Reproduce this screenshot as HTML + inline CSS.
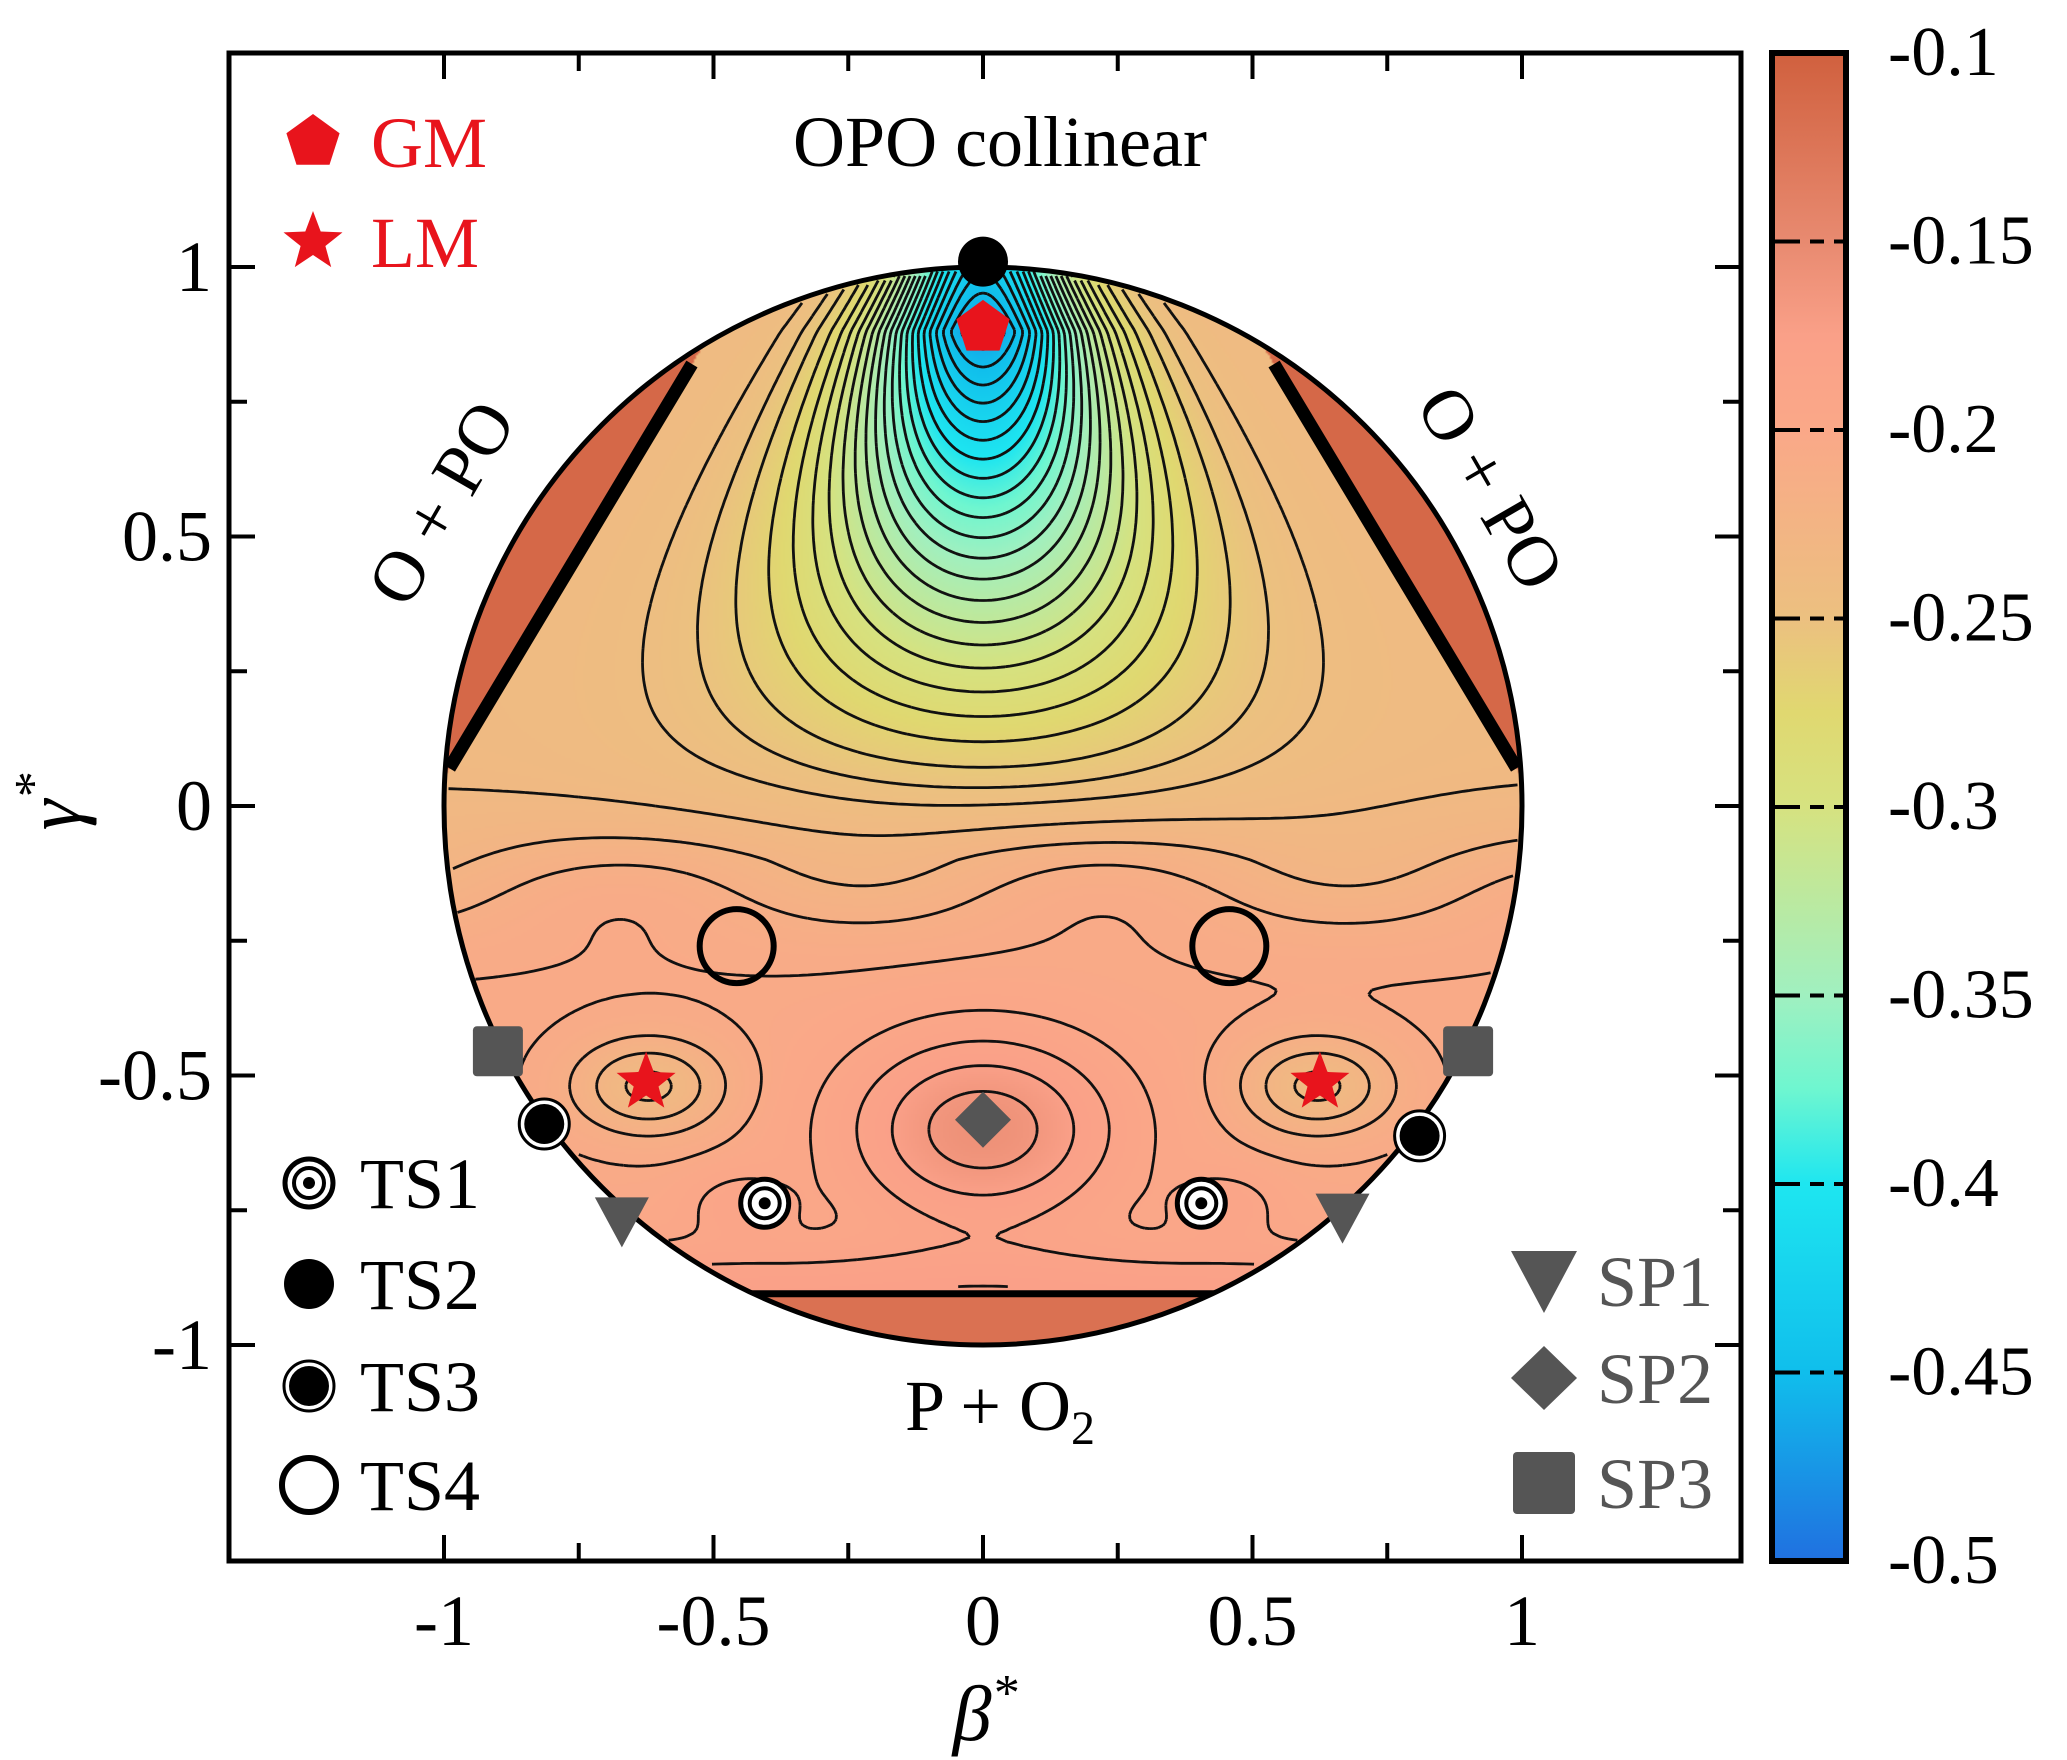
<!DOCTYPE html>
<html><head><meta charset="utf-8"><style>
html,body{margin:0;padding:0;background:#fff;}
#wrap{position:relative;width:2067px;height:1760px;overflow:hidden;background:#fff;}
#fill{position:absolute;left:444px;top:267px;width:1078px;height:1078px;border-radius:50%;}
svg{position:absolute;left:0;top:0;}
text{font-family:"Liberation Serif",serif;}
</style></head><body>
<div id="wrap">
<canvas id="fill" width="539" height="539"></canvas>
<svg id="svg" width="2067" height="1760"></svg>
</div>
<script>
const xTicks=[-1,-0.5,0,0.5,1];
const yTicks=[1,0.5,0,-0.5,-1];
const xTickLabels=["-1","-0.5","0","0.5","1"];
const yTickLabels=["1","0.5","0","-0.5","-1"];
const cbTicks=[-0.1,-0.15,-0.2,-0.25,-0.3,-0.35,-0.4,-0.45,-0.5];
const cbLabels=["-0.1","-0.15","-0.2","-0.25","-0.3","-0.35","-0.4","-0.45","-0.5"];
const contourLevels=[-0.47,-0.46,-0.45,-0.44,-0.43,-0.42,-0.41,-0.40,-0.39,-0.38,-0.37,-0.36,-0.35,-0.34,-0.33,-0.32,-0.31,-0.30,-0.29,-0.28,-0.27,-0.26,-0.252,-0.245,-0.235,-0.225,-0.215,-0.205,-0.195,-0.185,-0.175,-0.165,-0.155,-0.145];
const ts1=[[-0.405,-0.737],[0.405,-0.737]];
const ts2=[[0,1.01]];
const ts3=[[-0.814,-0.59],[0.81,-0.612]];
const ts4=[[-0.457,-0.26],[0.457,-0.26]];
const gm=[[0,0.887]];
const lm=[[-0.625,-0.513],[0.625,-0.513]];
const sp1=[[-0.67,-0.767],[0.667,-0.76]];
const sp2=[[0,-0.582]];
const sp3=[[-0.9,-0.455],[0.9,-0.455]];

const X0=983,Y0=806,U=539;
const px=x=>X0+x*U, py=y=>Y0-y*U;
const cbTop=53,cbBot=1561,cbL=1772,cbR=1846;
const cbY=v=>cbTop+(-0.1-v)/0.4*(cbBot-cbTop);
const NS="http://www.w3.org/2000/svg";
const svg=document.getElementById('svg');
function mk(tag,attrs,parent){const e=document.createElementNS(NS,tag);for(const k in attrs)e.setAttribute(k,attrs[k]);(parent||svg).appendChild(e);return e;}

const stops=[[-0.5,[32,112,224]],[-0.45,[16,190,236]],[-0.4,[30,230,240]],[-0.375,[110,246,208]],[-0.35,[160,240,192]],[-0.3,[214,226,128]],[-0.275,[224,216,112]],[-0.25,[236,192,128]],[-0.2,[250,168,136]],[-0.175,[250,160,136]],[-0.15,[232,138,112]],[-0.1,[208,96,62]]];
function cmap(v){if(v<=stops[0][0])return stops[0][1];for(let i=1;i<stops.length;i++){if(v<=stops[i][0]){const a=stops[i-1],b=stops[i],t=(v-a[0])/(b[0]-a[0]);return a[1].map((c,j)=>c+(b[1][j]-c)*t);}}return stops[stops.length-1][1];}
const sg=t=>1/(1+Math.exp(-t));
function inWedge(x,y){
  const ax=-0.54,ay=0.82,bx=-0.99,by=0.07,xx=-Math.abs(x);
  const c=(bx-ax)*(y-ay)-(by-ay)*(xx-ax);
  return y>0.02 && c<0;
}
function field(x,y){
  if(inWedge(x,y))return -0.11;
  if(y<-0.905)return -0.12;
  let v=-0.238;
  v+=0.035*sg((-0.12-y)/0.07);
  v+=0.008*Math.sin(x*7)*Math.exp(-((y+0.15)**2)/0.01);
  v+=0.045*Math.exp(-(x*x/0.06+(y+0.6)*(y+0.6)/0.03));
  v-=0.035*Math.exp(-((Math.abs(x)-0.62)**2/0.02+(y+0.52)**2/0.008));
  v+=0.012*Math.exp(-((Math.abs(x)-0.45)**2/0.01+(y+0.74)**2/0.004));
  v+=0.03*sg((-0.84-y)/0.03);
  let A=0,w;
  if(y>-0.1){
    if(y<=0.88)A=0.232*Math.pow((y+0.1)/0.98,1.3);
    else A=0.232*Math.max(0,1-(y-0.88)*1.2);
    w=Math.max(0.16,0.45-0.22*(y-0.2)/0.6);
    v-=A*Math.exp(-Math.pow(Math.abs(x)/w,2));
  }
  return v;
}
const cv=document.getElementById('fill'),ctx=cv.getContext('2d');
const img=ctx.createImageData(539,539);
for(let j=0;j<539;j++)for(let i=0;i<539;i++){
  const x=(i+0.5)/539*2-1,y=1-(j+0.5)/539*2;
  const c=cmap(field(x,y));const k=(j*539+i)*4;
  img.data[k]=c[0];img.data[k+1]=c[1];img.data[k+2]=c[2];img.data[k+3]=255;}
ctx.putImageData(img,0,0);

const N=240,G=[],ok=[];
for(let j=0;j<=N;j++){G[j]=[];ok[j]=[];for(let i=0;i<=N;i++){const x=-1+2*i/N,y=-1+2*j/N;G[j][i]=field(x,y);ok[j][i]=(x*x+y*y<0.995)&&!inWedge(x,y)&&y>-0.9;}}
let d="";
const gx=i=>px(-1+2*i/N),gy=j=>py(-1+2*j/N);
for(const L of contourLevels){
  for(let j=0;j<N;j++)for(let i=0;i<N;i++){
    if(!(ok[j][i]&&ok[j][i+1]&&ok[j+1][i]&&ok[j+1][i+1]))continue;
    const a=G[j][i],b=G[j][i+1],c=G[j+1][i+1],e=G[j+1][i];
    const pts=[];
    const ed=(v1,v2,x1,y1,x2,y2)=>{if((v1<L)!==(v2<L)){const t=(L-v1)/(v2-v1);pts.push([x1+(x2-x1)*t,y1+(y2-y1)*t]);}};
    ed(a,b,i,j,i+1,j);ed(b,c,i+1,j,i+1,j+1);ed(c,e,i+1,j+1,i,j+1);ed(e,a,i,j+1,i,j);
    for(let k=0;k+1<pts.length;k+=2)d+="M"+gx(pts[k][0]).toFixed(1)+" "+gy(pts[k][1]).toFixed(1)+"L"+gx(pts[k+1][0]).toFixed(1)+" "+gy(pts[k+1][1]).toFixed(1);
  }
}
const defs=mk('defs',{});
const cp=mk('clipPath',{id:'cc'},defs);mk('circle',{cx:X0,cy:Y0,r:U},cp);
const cont=mk('path',{d:d,fill:'none',stroke:'#111','stroke-width':2.8,'clip-path':'url(#cc)'});

const wl=mk('line',{x1:px(-0.54),y1:py(0.82),x2:px(-0.99),y2:py(0.07),stroke:'#000','stroke-width':13,'clip-path':'url(#cc)'});

const wr=mk('line',{x1:px(0.54),y1:py(0.82),x2:px(0.99),y2:py(0.07),stroke:'#000','stroke-width':13,'clip-path':'url(#cc)'});

const bl=mk('line',{x1:px(-1),y1:py(-0.905),x2:px(1),y2:py(-0.905),stroke:'#000','stroke-width':7,'clip-path':'url(#cc)'});

const co=mk('circle',{cx:X0,cy:Y0,r:U,fill:'none',stroke:'#000','stroke-width':5});


const fL=229,fR=1741,fT=53,fB=1561;
const fr=mk('rect',{x:fL,y:fT,width:fR-fL,height:fB-fT,fill:'none',stroke:'#000','stroke-width':5});

let td="";
for(let k=-4;k<=4;k++){const v=k*0.25,len=(k%2===0)?26:18;
  const x=px(v),y=py(v);
  td+=`M${x} ${fB}V${fB-len}M${x} ${fT}V${fT+len}M${fL} ${y}H${fL+len}M${fR} ${y}H${fR-len}`;}
const tk=mk('path',{d:td,stroke:'#000','stroke-width':4,fill:'none'});

xTicks.forEach((v,i)=>{const t=mk('text',{x:px(v),y:1645,'font-size':72,'text-anchor':'middle'});t.textContent=xTickLabels[i];
  });
yTicks.forEach((v,i)=>{const t=mk('text',{x:212,y:py(v)+24,'font-size':72,'text-anchor':'end'});t.textContent=yTickLabels[i];
  });
const xt=mk('text',{x:985,y:1740,'font-size':78,'font-style':'italic','text-anchor':'middle'});xt.innerHTML='β<tspan dy="-30" font-size="52">*</tspan>';

const yt=mk('text',{x:0,y:0,'font-size':78,'font-style':'italic','text-anchor':'middle',transform:'translate(80,802) rotate(-90)'});yt.innerHTML='γ<tspan dy="-30" font-size="52">*</tspan>';


function lab(txt,x,y,rot,name){const t=mk('text',{x:0,y:0,'font-size':72,'text-anchor':'middle',transform:`translate(${x},${y}) rotate(${rot})`});t.innerHTML=txt;
  }
lab('OPO collinear',1000,166,0,'opo-collinear-label');
lab('P + O<tspan dy="14" font-size="48">2</tspan>',1000,1430,0,'p-o2-label');
lab('O + PO',462,515,-60,'left-o-po-label');
lab('O + PO',1470,500,60,'right-o-po-label');

const lg=mk('linearGradient',{id:'cbg',x1:0,y1:1,x2:0,y2:0},defs);
stops.forEach(s=>{mk('stop',{offset:((s[0]+0.5)/0.4).toFixed(4),'stop-color':`rgb(${s[1].map(Math.round).join(',')})`},lg);});
const cb=mk('rect',{x:cbL,y:cbTop,width:cbR-cbL,height:cbBot-cbTop,fill:'url(#cbg)',stroke:'#000','stroke-width':6});

cbTicks.forEach((v,i)=>{const y=cbY(v);
  if(i>0&&i<cbTicks.length-1){const l=mk('path',{d:`M${cbL} ${y}H${cbL+28}M${cbL+38} ${y}H${cbL+52}M${cbL+62} ${y}H${cbR}`,stroke:'#000','stroke-width':4});
    }
  const t=mk('text',{x:1888,y:y+22,'font-size':70});t.textContent=cbLabels[i];
  });

function pent(cx,cy,r){let p=[];for(let k=0;k<5;k++){const a=-Math.PI/2+k*2*Math.PI/5;p.push((cx+r*Math.cos(a)).toFixed(1)+','+(cy+r*Math.sin(a)).toFixed(1));}return p.join(' ');}
function star(cx,cy,r){let p=[];for(let k=0;k<10;k++){const a=-Math.PI/2+k*Math.PI/5,rr=k%2?r*0.42:r;p.push((cx+rr*Math.cos(a)).toFixed(1)+','+(cy+rr*Math.sin(a)).toFixed(1));}return p.join(' ');}
function drawTS1(cx,cy,g){mk('circle',{cx,cy,r:24,fill:'#fff',stroke:'#000','stroke-width':5},g);mk('circle',{cx,cy,r:15,fill:'none',stroke:'#000','stroke-width':4},g);mk('circle',{cx,cy,r:6,fill:'#000'},g);}
function drawTS2(cx,cy,g){mk('circle',{cx,cy,r:25,fill:'#000'},g);}
function drawTS3(cx,cy,g){mk('circle',{cx,cy,r:25,fill:'#fff',stroke:'#000','stroke-width':3},g);mk('circle',{cx,cy,r:20,fill:'#000'},g);}
function drawTS4(cx,cy,g,r){mk('circle',{cx,cy,r:r||37,fill:'none',stroke:'#000','stroke-width':6},g);}
function drawGM(cx,cy,g){mk('polygon',{points:pent(cx,cy,28),fill:'#e8141c'},g);}
function drawLM(cx,cy,g){mk('polygon',{points:star(cx,cy,31),fill:'#e8141c'},g);}
function drawSP1(cx,cy,g){mk('polygon',{points:`${cx-27},${cy-22} ${cx+27},${cy-22} ${cx},${cy+28}`,fill:'#555'},g);}
function drawSP2(cx,cy,g){mk('polygon',{points:`${cx},${cy-28} ${cx+28},${cy} ${cx},${cy+28} ${cx-28},${cy}`,fill:'#555'},g);}
function drawSP3(cx,cy,g){mk('rect',{x:cx-25,y:cy-25,width:50,height:50,rx:4,fill:'#555'},g);}
function series(arr,fn,name){arr.forEach(p=>{const g=mk('g',{});fn(px(p[0]),py(p[1]),g);});}
series(sp3,drawSP3,'sp3-marker');
series(ts3,drawTS3,'ts3-marker');
series(ts4,drawTS4,'ts4-marker');
series(lm,drawLM,'lm-marker');
series(sp2,drawSP2,'sp2-marker');
series(ts1,drawTS1,'ts1-marker');
series(sp1,drawSP1,'sp1-marker');
series(ts2,drawTS2,'ts2-marker');
series(gm,drawGM,'gm-marker');

function legend(fn,x,y,txt,col,tx,name){const g=mk('g',{});
  fn(x,y,g);const t=mk('text',{x:tx,y:y+25,'font-size':72,fill:col},g);t.textContent=txt;}
legend(drawGM,313,142,'GM','#e8141c',371,'legend-gm');
legend(drawLM,313,242,'LM','#e8141c',371,'legend-lm');
legend(drawTS1,309,1183,'TS1','#000',360,'legend-ts1');
legend(drawTS2,309,1284,'TS2','#000',360,'legend-ts2');
legend(drawTS3,309,1386,'TS3','#000',360,'legend-ts3');
legend((x,y,g)=>drawTS4(x,y,g,27),309,1485,'TS4','#000',360,'legend-ts4');
legend((x,y,g)=>{mk('polygon',{points:`${x-33},${y-30} ${x+33},${y-30} ${x},${y+32}`,fill:'#555'},g);},1544,1281,'SP1','#555',1597,'legend-sp1');
legend((x,y,g)=>{mk('polygon',{points:`${x},${y-32} ${x+33},${y} ${x},${y+32} ${x-33},${y}`,fill:'#555'},g);},1544,1378,'SP2','#555',1597,'legend-sp2');
legend((x,y,g)=>{mk('rect',{x:x-31,y:y-31,width:62,height:62,rx:4,fill:'#555'},g);},1544,1483,'SP3','#555',1597,'legend-sp3');
</script>
</body></html>
